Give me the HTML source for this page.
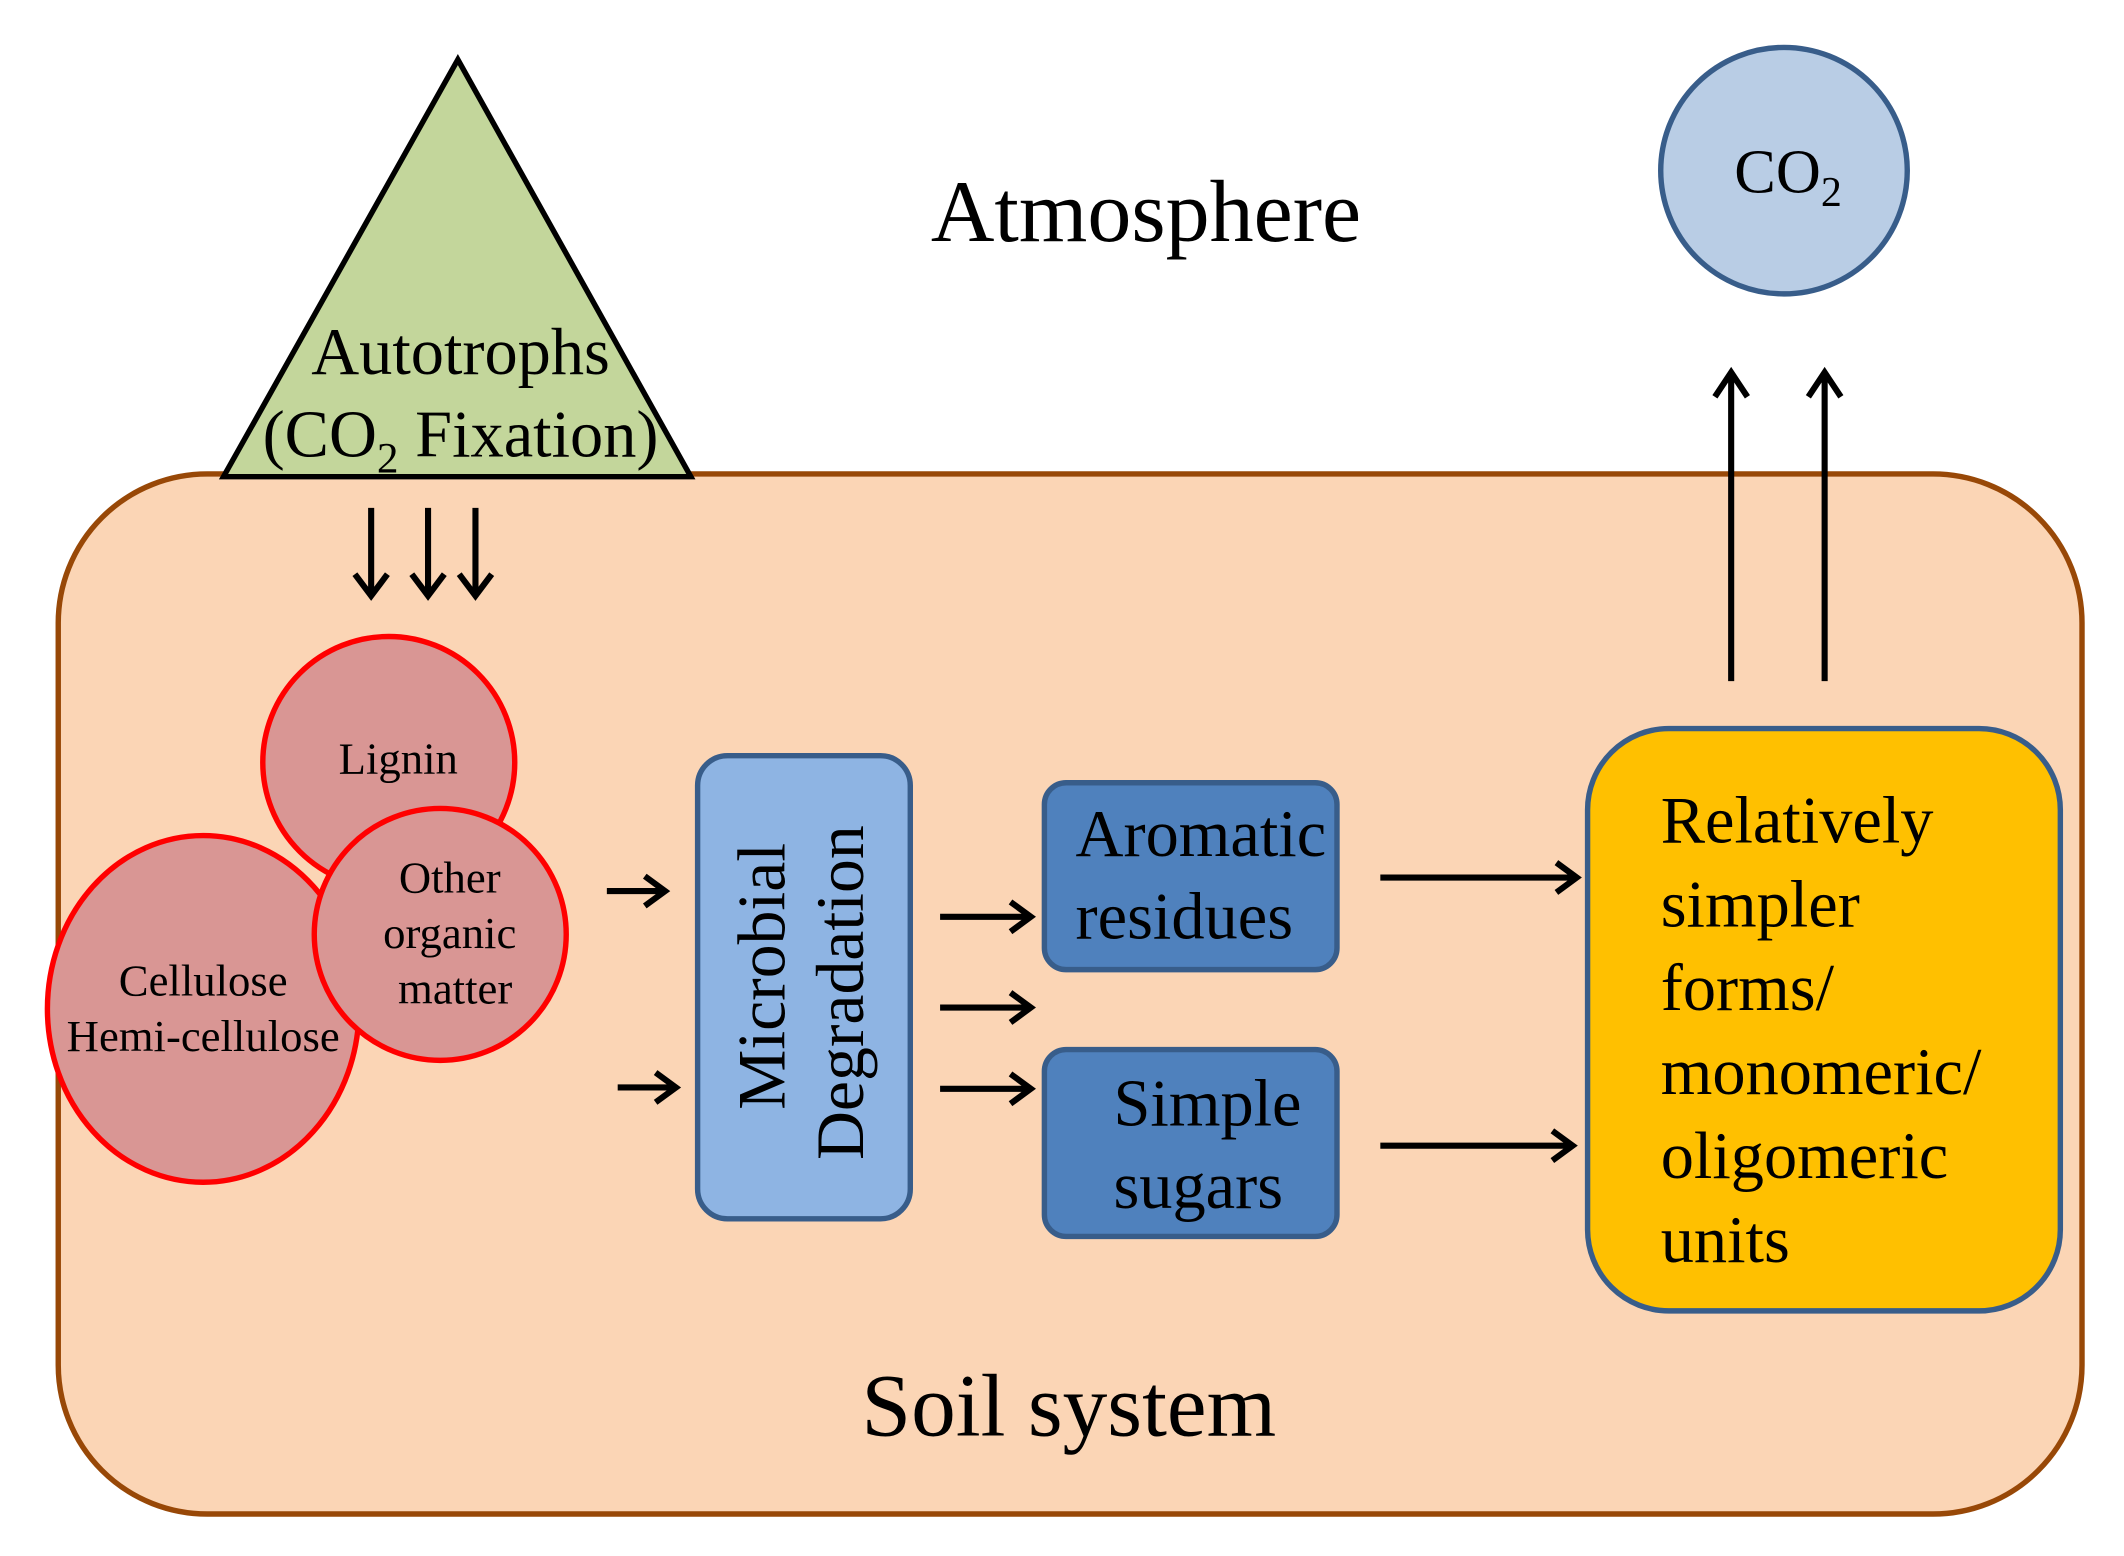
<!DOCTYPE html>
<html><head><meta charset="utf-8"><style>html,body{margin:0;padding:0;background:#fff}svg{display:block}</style></head>
<body>
<svg width="2124" height="1556" viewBox="0 0 1568 1149" preserveAspectRatio="none" xmlns="http://www.w3.org/2000/svg" font-family="Liberation Serif, serif">
<rect x="43" y="350" width="1494" height="768" rx="110" fill="#fbd5b5" stroke="#984807" stroke-width="4"/>
<polygon points="338,44 165,352 510,352" fill="#c3d69b" stroke="#000" stroke-width="4"/>
<text x="340" y="276" font-size="49" text-anchor="middle">Autotrophs</text>
<text x="340" y="337" font-size="49" text-anchor="middle">(CO<tspan font-size="32" dy="12">2</tspan><tspan dy="-12"> Fixation)</tspan></text>
<text x="846" y="178" font-size="65" text-anchor="middle">Atmosphere</text>
<circle cx="1317" cy="126" r="91" fill="#b9cde5" stroke="#385d8a" stroke-width="4"/>
<text x="1320" y="142" font-size="46" text-anchor="middle">CO<tspan font-size="31" dy="10">2</tspan></text>
<g stroke="#000" stroke-width="4.5" fill="none">
<path d="M274 375V438M262 424L274 440L286 424"/>
<path d="M316 375V438M304 424L316 440L328 424"/>
<path d="M351 375V438M339 424L351 440L363 424"/>
<path d="M1278 503V277M1266 293L1278 275L1290 293"/>
<path d="M1347 503V277M1335 293L1347 275L1359 293"/>
<path d="M448 658H490M476 647L491 658L476 669"/>
<path d="M456 803H498M484 792L499 803L484 814"/>
<path d="M694 677H760M746 666L761 677L746 688"/>
<path d="M694 744H760M746 733L761 744L746 755"/>
<path d="M694 804H760M746 793L761 804L746 815"/>
<path d="M1019 648H1163M1149 637L1164 648L1149 659"/>
<path d="M1019 846H1160M1146 835L1161 846L1146 857"/>
</g>
<circle cx="287" cy="563" r="93" fill="#d99694" stroke="#f00" stroke-width="4"/>
<ellipse cx="150" cy="745" rx="115" ry="128" fill="#d99694" stroke="#f00" stroke-width="4"/>
<circle cx="325" cy="690" r="93" fill="#d99694" stroke="#f00" stroke-width="4"/>
<g font-size="33" text-anchor="middle">
<text x="294" y="571">Lignin</text>
<text x="332" y="659">Other</text>
<text x="332" y="700">organic</text>
<text x="336" y="741">matter</text>
<text x="150" y="735">Cellulose</text>
<text x="150" y="776">Hemi-cellulose</text>
</g>
<rect x="515" y="558" width="157" height="342" rx="22" fill="#8eb4e3" stroke="#385d8a" stroke-width="4"/>
<g font-size="50" text-anchor="middle">
<text transform="translate(579,721) rotate(-90)">Microbial</text>
<text transform="translate(637,733) rotate(-90)">Degradation</text>
</g>
<rect x="771" y="578" width="216" height="138" rx="16" fill="#4f81bd" stroke="#385d8a" stroke-width="4"/>
<rect x="771" y="775" width="216" height="138" rx="16" fill="#4f81bd" stroke="#385d8a" stroke-width="4"/>
<g font-size="49">
<text x="794" y="632">Aromatic</text>
<text x="794" y="693">residues</text>
<text x="822" y="831">Simple</text>
<text x="822" y="892">sugars</text>
</g>
<rect x="1172" y="538" width="349" height="430" rx="60" fill="#ffc000" stroke="#385d8a" stroke-width="4"/>
<g font-size="49">
<text x="1226" y="622">Relatively</text>
<text x="1226" y="684">simpler</text>
<text x="1226" y="746">forms/</text>
<text x="1226" y="808">monomeric/</text>
<text x="1226" y="870">oligomeric</text>
<text x="1226" y="932">units</text>
</g>
<text x="789" y="1060" font-size="66" text-anchor="middle">Soil system</text>
</svg>
</body></html>
